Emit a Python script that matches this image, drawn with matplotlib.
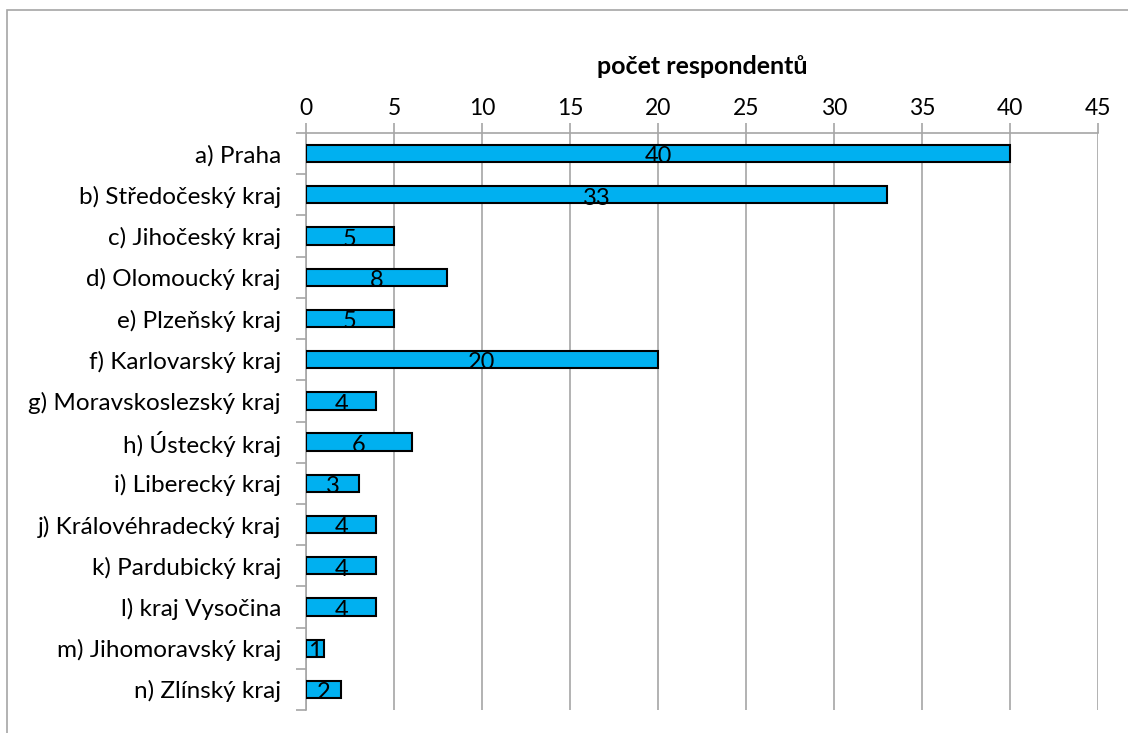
import matplotlib
matplotlib.use("Agg")
import matplotlib.pyplot as plt
from matplotlib.patches import Rectangle
import numpy as np

# data
regions = ["a) Praha", "b) Středočeský kraj", "c) Jihočeský kraj", "d) Olomoucký kraj",
           "e) Plzeňský kraj", "f) Karlovarský kraj", "g) Moravskoslezský kraj",
           "h) Ústecký kraj", "i) Liberecký kraj", "j) Královéhradecký kraj",
           "k) Pardubický kraj", "l) kraj Vysočina", "m) Jihomoravský kraj", "n) Zlínský kraj"]
counts = [40, 33, 5, 8, 5, 20, 4, 6, 3, 4, 4, 4, 1, 2]
x_ticks = [0, 5, 10, 15, 20, 25, 30, 35, 40, 45]
x_title = "počet respondentů"

plt.rcParams['font.family'] = ['Lato', 'DejaVu Sans']

fig = plt.figure(figsize=(11.28, 7.33), dpi=100)
ax = fig.add_axes([306/1128, 1 - 710/733, (1098 - 306)/1128, (710 - 133)/733])

# outer chart border (left + top visible)
fig.add_artist(Rectangle((7/1128, -0.01), 1.0, 1 - 10/733 + 0.01, transform=fig.transFigure,
                         fill=False, edgecolor="#a6a6a6", linewidth=1.2))

y = np.arange(len(regions))
ax.barh(y, counts, height=0.42, color="#00B0F0", edgecolor="black", linewidth=1.5, zorder=3)

for i, v in enumerate(counts):
    ax.text(v / 2, i + 0.08, str(v), ha="center", va="center", fontsize=17, zorder=4)

ax.set_ylim(len(regions) - 0.5, -0.5)
ax.set_xlim(0, 45)
ax.xaxis.tick_top()
ax.xaxis.set_label_position("top")
ax.set_xticks(x_ticks)
ax.set_xlabel(x_title, fontsize=18, fontweight="bold", labelpad=17)

ax.set_yticks(y)
ax.set_yticklabels(regions, fontsize=17.5)
ax.set_yticks(np.arange(len(regions) + 1) - 0.5, minor=True)
ax.tick_params(axis="y", which="major", length=0, pad=18)
ax.tick_params(axis="y", which="minor", length=7, color="#a6a6a6", width=1.2)
ax.tick_params(axis="x", length=7, color="#a6a6a6", width=1.2, labelsize=16.5, pad=3)

ax.grid(axis="x", color="#a6a6a6", linewidth=1.2, zorder=0)
for s in ["right", "bottom"]:
    ax.spines[s].set_visible(False)
for s in ["top", "left"]:
    ax.spines[s].set_color("#a6a6a6")
    ax.spines[s].set_linewidth(1.2)

fig.savefig("out.png", dpi=100)
